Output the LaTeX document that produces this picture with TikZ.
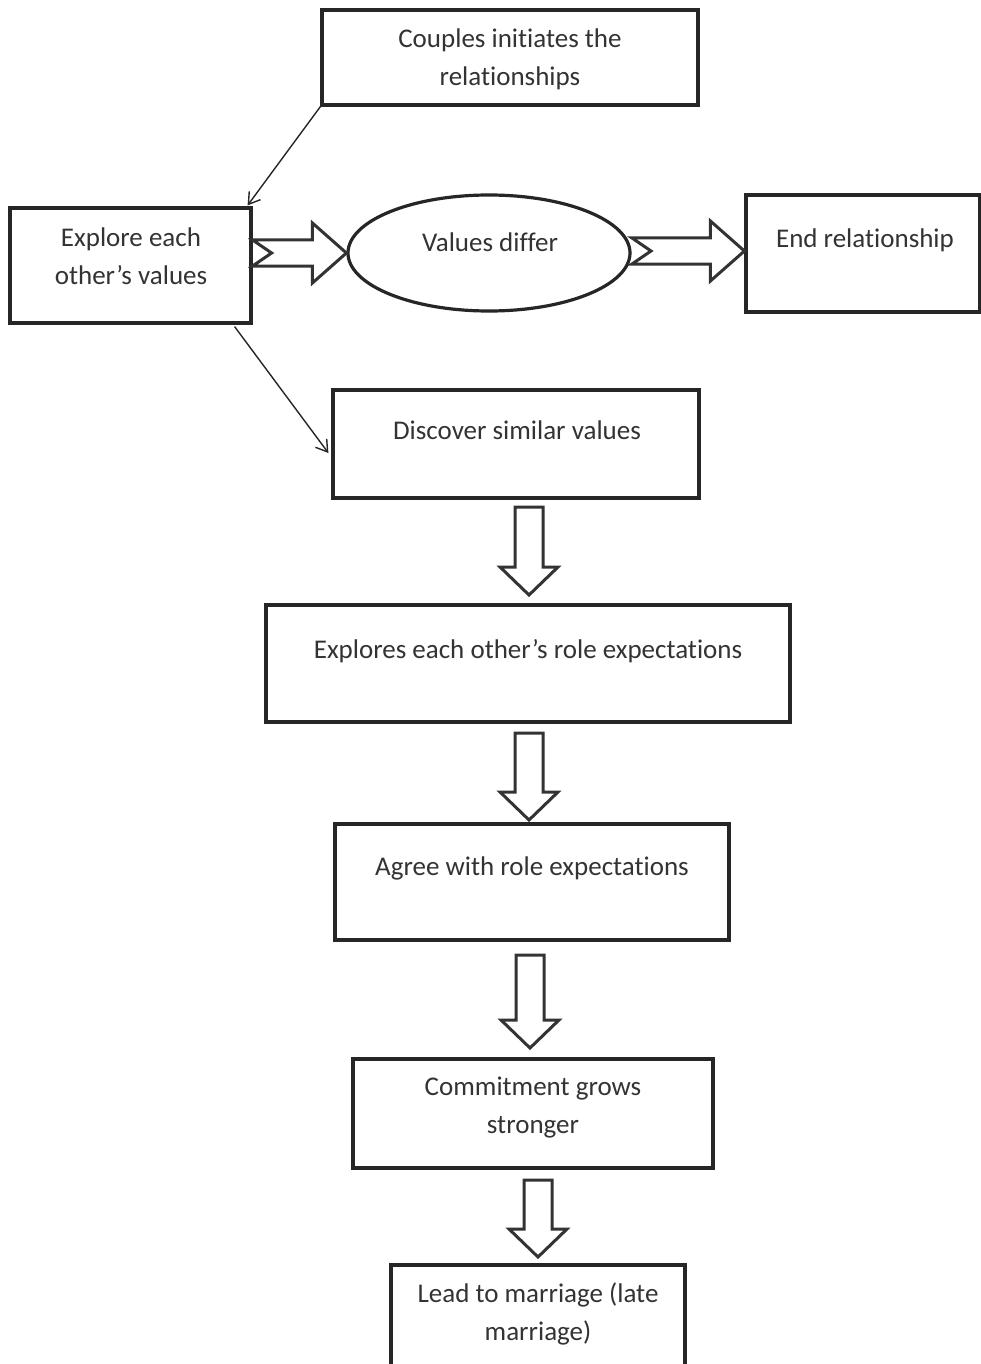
\documentclass[tikz,border=0pt]{standalone}
\usepackage{fontspec}
\setmainfont[RawFeature={-liga}]{Carlito}
\usepackage{tikz}
\usetikzlibrary{arrows.meta,positioning,calc,shapes.geometric}
\tikzset{
  box/.style     = {draw, line width=3.2pt, rectangle, inner sep=0pt, black!85},
  oval/.style    = {draw, line width=3.2pt, ellipse, inner sep=0pt, black!85},
  txt/.style     = {align=center, text=black!80, font=\fontsize{27}{38}\selectfont},
  thinarr/.style = {-{Straight Barb[length=11pt,width=14pt]}, line width=1.4pt, black!85},
  fat/.style     = {draw, line width=3pt, black!80, fill=white, line join=miter},
}
% notched block arrow pointing right: #1 tail, #2 tip
\newcommand{\notcharrow}[2]{%
  \draw[fat] let \p1=(#1), \p2=(#2) in
    (\x1,{\y1+13pt}) -- ({\x2-34pt},{\y1+13pt}) -- ({\x2-34pt},{\y1+30pt})
    -- (\x2,\y1) -- ({\x2-34pt},{\y1-30pt}) -- ({\x2-34pt},{\y1-13pt})
    -- (\x1,{\y1-13pt}) -- ({\x1+19pt},\y1) -- cycle;}
% plain block arrow pointing down: #1 tail, #2 tip
\newcommand{\downarr}[2]{%
  \draw[fat] let \p1=(#1), \p2=(#2) in
    ({\x1-14pt},\y1) -- ({\x1+14pt},\y1) -- ({\x1+14pt},{\y2+28pt})
    -- ({\x1+29pt},{\y2+28pt}) -- (\x1,\y2) -- ({\x1-29pt},{\y2+28pt})
    -- ({\x1-14pt},{\y2+28pt}) -- cycle;}

\begin{document}
\begin{tikzpicture}[x=1pt,y=-1pt]
\clip (0,0) rectangle (981,1364);
\fill[white] (0,0) rectangle (981,1364);

% boxes
\node[box,minimum width=376pt,minimum height=95pt] (start) at (510,57.5) {};
\node[box,minimum width=241pt,minimum height=115pt] (explore) at (130.5,265.5) {};
\node[oval,minimum width=282pt,minimum height=116pt] (differ) at (489,253) {};
\node[box,minimum width=234pt,minimum height=117pt] (endrel) at (863,253.5) {};
\node[box,minimum width=366pt,minimum height=108pt] (similar) at (516,444) {};
\node[box,minimum width=524pt,minimum height=117pt] (roles) at (528,663.5) {};
\node[box,minimum width=394pt,minimum height=116pt] (agree) at (532,882) {};
\node[box,minimum width=360pt,minimum height=109pt] (commit) at (533,1113.5) {};
\node[box,minimum width=294pt,minimum height=110pt] (marry) at (538,1320) {};

% texts
\node[txt] (tstart) at (510,59) {Couples initiates the\\relationships};
\node[txt] (texplore) at (131,256) {Explore each\\other’s values};
\node[txt] (tdiffer) at (490,242) {Values differ};
\node[txt] (tendrel) at (865,240) {End relationship};
\node[txt] (tsimilar) at (517,430) {Discover similar values};
\node[txt] (troles) at (528,651) {Explores each other’s role expectations};
\node[txt] (tagree) at (532,868) {Agree with role expectations};
\node[txt] (tcommit) at (533,1108) {Commitment grows\\stronger};
\node[txt] (tmarry) at (538,1314) {Lead to marriage (late\\marriage)};

% thin connectors
\draw[thinarr] (start.south west) -- ([xshift=-5pt,yshift=1pt]explore.north east);
\draw[thinarr] ([xshift=-18pt,yshift=-2pt]explore.south east) -- ([xshift=-3pt,yshift=-9pt]similar.west);

% block arrows
\coordinate (n1a) at (explore.east |- differ.center);
\notcharrow{n1a}{differ.west}
\coordinate (n2a) at (632,251);
\coordinate (n2b) at (endrel.west |- n2a);
\notcharrow{n2a}{n2b}

\coordinate (d1a) at (529,507);  \coordinate (d1b) at (529,595);
\coordinate (d2a) at (529,733);  \coordinate (d2b) at (529,820);
\coordinate (d3a) at (530,955);  \coordinate (d3b) at (530,1048);
\coordinate (d4a) at (538,1180); \coordinate (d4b) at (540,1257);
\downarr{d1a}{d1b}
\downarr{d2a}{d2b}
\downarr{d3a}{d3b}
\downarr{d4a}{d4b}
\end{tikzpicture}
\end{document}
